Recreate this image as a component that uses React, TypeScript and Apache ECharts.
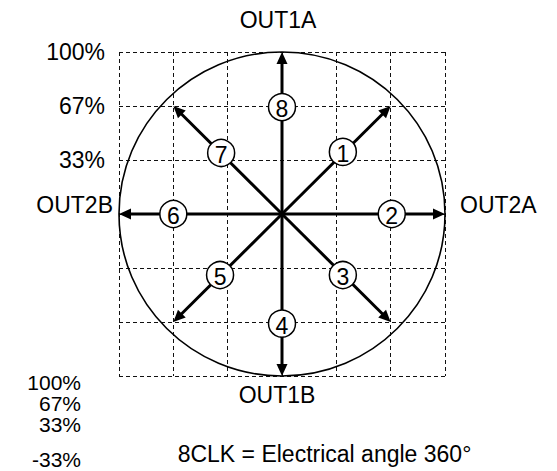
import React, { useEffect, useRef } from "react";
import * as echarts from "echarts";

// ---- data ----
const axisMin = -3;
const axisMax = 3;
const axisInterval = 1;
const yTickValues = [1, 2, 3];
const yTickLabels = ["33%", "67%", "100%"];
const circleRadius = 3;
const arrowEnds: [number, number][] = [
  [2, 2], [3, 0], [2, -2], [0, -3], [-2, -2], [-3, 0], [-2, 2], [0, 3],
];
const stepNames = ["1", "2", "3", "4", "5", "6", "7", "8"];
const stepPositions: [number, number][] = [
  [1.12, 1.15], [2.02, 0], [1.12, -1.13], [0, -2.03],
  [-1.14, -1.13], [-2.0, 0], [-1.12, 1.13], [0, 1.98],
];
const outputNames = ["OUT1A", "OUT1B", "OUT2A", "OUT2B"];
const extraPercentLabels = ["100%", "67%", "33%", "-33%"];
const caption = "8CLK = Electrical angle 360°";

const FONT = "'Liberation Sans', Arial, Helvetica, sans-serif";
const FS = 23;

export default function App() {
  const ref = useRef<HTMLDivElement>(null);
  useEffect(() => {
    if (!ref.current) return;
    const chart = echarts.init(ref.current, undefined, { renderer: "svg" });
    const axisCommon = {
      type: "value" as const,
      min: axisMin,
      max: axisMax,
      interval: axisInterval,
      axisLine: { show: false },
      axisTick: { show: false },
      splitLine: {
        show: true,
        showMinLine: true,
        showMaxLine: true,
        lineStyle: { color: "#111", width: 1, type: [4, 3] },
      },
    };
    const textEl = (text: string, x: number, y: number, align: string, size: number = FS) => ({
      type: "text",
      x,
      y,
      silent: true,
      style: {
        text,
        fill: "#000",
        font: `${size}px ${FONT}`,
        align,
        verticalAlign: "middle",
      },
    });
    chart.setOption({
      animation: false,
      backgroundColor: "#fff",
      grid: { left: 119, top: 52, width: 326, height: 324, containLabel: false },
      xAxis: { ...axisCommon, axisLabel: { show: false } },
      yAxis: {
        ...axisCommon,
        axisLabel: {
          show: true,
          margin: 14,
          color: "#000",
          fontSize: FS,
          fontFamily: FONT,
          padding: [0, 0, 12, 0],
          formatter: (v: number) => {
            const i = yTickValues.indexOf(v);
            return i >= 0 ? yTickLabels[i] : "";
          },
        },
      },
      series: [
        {
          type: "custom",
          silent: true,
          z: 2,
          data: [[0, 0, circleRadius]],
          renderItem: (_p: any, api: any) => {
            const c = api.coord([api.value(0), api.value(1)]);
            const s = api.size([api.value(2), api.value(2)]);
            return {
              type: "ellipse",
              shape: { cx: c[0], cy: c[1], rx: s[0], ry: s[1] },
              style: { fill: "none", stroke: "#000", lineWidth: 1.6 },
            };
          },
        },
        {
          type: "custom",
          silent: true,
          z: 3,
          data: arrowEnds,
          renderItem: (_p: any, api: any) => {
            const o = api.coord([0, 0]);
            const e = api.coord([api.value(0), api.value(1)]);
            const dx = e[0] - o[0];
            const dy = e[1] - o[1];
            const len = Math.hypot(dx, dy);
            const ux = dx / len;
            const uy = dy / len;
            const headLen = 12;
            const headW = 5.5;
            const bx = e[0] - ux * headLen;
            const by = e[1] - uy * headLen;
            return {
              type: "group",
              children: [
                {
                  type: "line",
                  shape: { x1: o[0], y1: o[1], x2: bx + ux * 2, y2: by + uy * 2 },
                  style: { stroke: "#000", lineWidth: 3 },
                },
                {
                  type: "polygon",
                  shape: {
                    points: [
                      [e[0], e[1]],
                      [bx - uy * headW, by + ux * headW],
                      [bx + uy * headW, by - ux * headW],
                    ],
                  },
                  style: { fill: "#000" },
                },
              ],
            };
          },
        },
        {
          type: "scatter",
          silent: true,
          z: 5,
          symbol: "circle",
          symbolSize: 27,
          itemStyle: { color: "#fff", borderColor: "#000", borderWidth: 1.5, opacity: 1 },
          label: {
            show: true,
            position: "inside",
            formatter: "{b}",
            color: "#000",
            fontSize: FS,
            fontFamily: FONT,
            offset: [0, 2],
          },
          data: stepPositions.map((p, i) => ({ value: p, name: stepNames[i] })),
        },
      ],
      graphic: [
        textEl(outputNames[0], 278, 20, "center"),
        textEl(outputNames[1], 277, 395, "center"),
        textEl(outputNames[2], 460, 205, "left"),
        textEl(outputNames[3], 113, 205, "right"),
        textEl(extraPercentLabels[0], 81, 382.5, "right", 21),
        textEl(extraPercentLabels[1], 81, 403.5, "right", 21),
        textEl(extraPercentLabels[2], 81, 424.5, "right", 21),
        textEl(extraPercentLabels[3], 81, 459, "right", 21),
        textEl(caption, 324.5, 454, "center"),
      ],
    });
    return () => chart.dispose();
  }, []);
  return (
    <div
      ref={ref}
      style={{ position: "fixed", left: 0, top: 0, width: 557, height: 471, background: "#fff" }}
    />
  );
}
